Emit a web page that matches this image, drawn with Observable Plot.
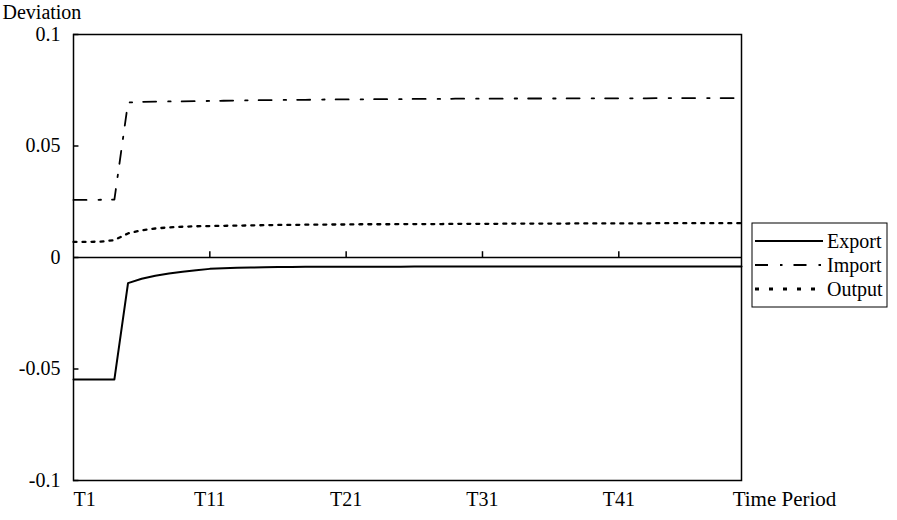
<!DOCTYPE html>
<html><head><meta charset="utf-8">
<script src="https://cdn.jsdelivr.net/npm/d3@7"></script>
<script src="https://cdn.jsdelivr.net/npm/@observablehq/plot@0.6"></script>
<style>
body{margin:0;background:#fff;}
#chart{width:897px;height:520px;}
</style>
</head><body><div id="chart"></div>
<script>
// Time periods T1..T50 (category index)
const periods = d3.range(1, 51);
const xTickPos = [1, 11, 21, 31, 41];
const xTickLabels = ["T1", "T11", "T21", "T31", "T41"];
const yTicks = [-0.1, -0.05, 0, 0.05, 0.1];
const seriesNames = ["Export", "Import", "Output"];

const exportVals = [
  -0.0547, -0.0547, -0.0547, -0.0547, -0.0115, -0.0095, -0.0082, -0.0072, -0.0064, -0.0057,
  -0.0051, -0.0048, -0.0046, -0.0045, -0.0044, -0.0043, -0.0043, -0.0042, -0.0042, -0.0042,
  -0.0041, -0.0041, -0.0041, -0.0041, -0.0041, -0.0040, -0.0040, -0.0040, -0.0040, -0.0040,
  -0.0040, -0.0040, -0.0040, -0.0040, -0.0040, -0.0040, -0.0040, -0.0040, -0.0040, -0.0040,
  -0.0040, -0.0040, -0.0040, -0.0040, -0.0040, -0.0040, -0.0040, -0.0040, -0.0040, -0.0040
];
const importVals = [
  0.0258, 0.0258, 0.0259, 0.0260, 0.0695, 0.0698, 0.0699, 0.0700, 0.0700, 0.0701,
  0.0702, 0.0703, 0.0704, 0.0705, 0.0706, 0.0706, 0.0707, 0.0707, 0.0708, 0.0709,
  0.0709, 0.0709, 0.0710, 0.0710, 0.0710, 0.0711, 0.0711, 0.0711, 0.0712, 0.0712,
  0.0712, 0.0712, 0.0713, 0.0713, 0.0713, 0.0713, 0.0713, 0.0714, 0.0714, 0.0714,
  0.0714, 0.0714, 0.0714, 0.0715, 0.0715, 0.0715, 0.0715, 0.0715, 0.0715, 0.0715
];
const outputVals = [
  0.0070, 0.0070, 0.0071, 0.0078, 0.0108, 0.0122, 0.0130, 0.0135, 0.0138, 0.0140,
  0.0141, 0.0142, 0.0143, 0.0144, 0.0145, 0.0146, 0.0146, 0.0147, 0.0147, 0.0148,
  0.0148, 0.0149, 0.0149, 0.0149, 0.0150, 0.0150, 0.0150, 0.0150, 0.0151, 0.0151,
  0.0151, 0.0151, 0.0152, 0.0152, 0.0152, 0.0152, 0.0152, 0.0153, 0.0153, 0.0153,
  0.0153, 0.0153, 0.0153, 0.0154, 0.0154, 0.0154, 0.0154, 0.0154, 0.0154, 0.0154
];

const toRows = (vals, name) => periods.map((t, i) => ({t, v: vals[i], series: name}));
const exportRows = toRows(exportVals, seriesNames[0]);
const importRows = toRows(importVals, seriesNames[1]);
const outputRows = toRows(outputVals, seriesNames[2]);

const FONT = '"Liberation Serif", "Times New Roman", Times, serif';
const styles = {
  Export: {strokeWidth: 2, dash: null},
  Import: {strokeWidth: 1.8, dash: "13,12,2.5,11"},
  Output: {strokeWidth: 2.3, dash: "3,6"}
};

const chart = Plot.plot({
  width: 897,
  height: 520,
  marginLeft: 73,
  marginRight: 156,
  marginTop: 34,
  marginBottom: 40,
  style: {fontSize: "20px", background: "#fff", color: "#000"},
  x: {type: "linear", domain: [1, 50], axis: null, label: null},
  y: {domain: [-0.1, 0.1], axis: null, label: null},
  marks: [
    Plot.frame({stroke: "#000", strokeWidth: 1.5}),
    Plot.ruleY([0], {stroke: "#000", strokeWidth: 1.5}),
    Plot.ruleX(xTickPos.slice(1), {x: d => d, y1: 0, y2: 0.0026, stroke: "#000", strokeWidth: 1.5}),
    Plot.ruleY(yTicks, {y: d => d, x1: 1, x2: 1.4, stroke: "#000", strokeWidth: 1.5}),
    Plot.axisY({ticks: yTicks, label: null, tickSize: 0, tickPadding: 13, tickFormat: d => String(d), fontSize: 20, fill: "#000"}),
    Plot.line(exportRows, {x: "t", y: "v", stroke: "#000", strokeWidth: styles.Export.strokeWidth}),
    Plot.line(importRows, {x: "t", y: "v", stroke: "#000", strokeWidth: styles.Import.strokeWidth, strokeDasharray: styles.Import.dash}),
    Plot.line(outputRows, {x: "t", y: "v", stroke: "#000", strokeWidth: styles.Output.strokeWidth, strokeDasharray: styles.Output.dash}),
    Plot.text([xTickLabels[0]], {x: xTickPos[0], frameAnchor: "bottom", lineAnchor: "middle", dy: 19, textAnchor: "start", text: d => d, fontSize: 20, fill: "#000"}),
    Plot.text(xTickLabels.slice(1), {x: (d, i) => xTickPos[i + 1], frameAnchor: "bottom", lineAnchor: "middle", dy: 19, text: d => d, fontSize: 20, fill: "#000"}),
    Plot.text(["Time Period"], {frameAnchor: "bottom-right", lineAnchor: "middle", dx: 43, dy: 19, text: d => d, textAnchor: "middle", fontSize: 21, fill: "#000"}),
    Plot.text(["Deviation"], {frameAnchor: "top-left", lineAnchor: "middle", dx: -71, dy: -22, text: d => d, textAnchor: "start", fontSize: 20, fill: "#000"})
  ]
});

// Legend box on the right
const svg = d3.select(chart);
const lg = svg.append("g").attr("font-size", 20).attr("text-anchor", "start");
lg.append("rect").attr("x", 752).attr("y", 223).attr("width", 135).attr("height", 84)
  .attr("fill", "#fff").attr("stroke", "#000").attr("stroke-width", 1);
seriesNames.forEach((name, i) => {
  const y = 241 + i * 24;
  const s = styles[name];
  lg.append("line").attr("x1", 755).attr("x2", 823).attr("y1", y).attr("y2", y)
    .attr("stroke", "#000").attr("stroke-width", name === "Output" ? 3.2 : 2)
    .attr("stroke-dasharray", name === "Output" ? "4,10" : (s.dash || null));
  lg.append("text").attr("x", 827).attr("y", y).attr("dy", "0.35em")
    .attr("text-anchor", "start").attr("fill", "#000").text(name);
});

// Force the serif face on every text element
svg.style("font-family", FONT);
svg.selectAll("g").style("font-family", FONT).style("font-variant", "normal");
svg.selectAll("text").style("font-family", FONT).style("font-variant", "normal");

document.getElementById("chart").appendChild(chart);
</script>
</body></html>
